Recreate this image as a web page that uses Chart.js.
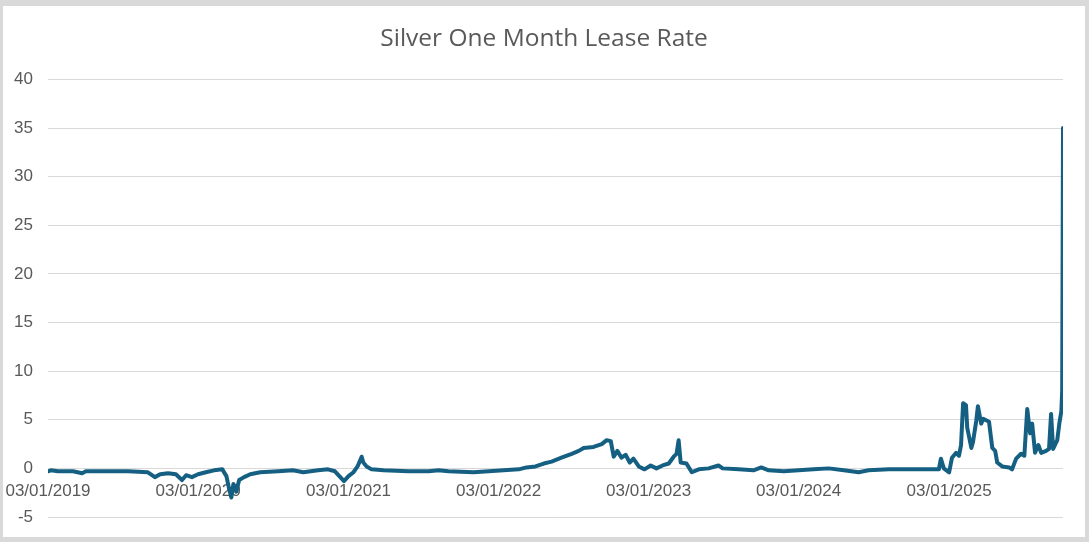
<!DOCTYPE html>
<html><head><meta charset="utf-8">
<script src="https://cdn.jsdelivr.net/npm/chart.js@4.4.1/dist/chart.umd.min.js"></script>
<style>
html,body{margin:0;padding:0;background:#d9d9d9;width:1089px;height:542px;overflow:hidden}
#box{position:absolute;left:3px;top:6px;width:1082px;height:531px;background:#fff}
</style></head><body><div id="box"><canvas id="c"></canvas></div>
<script>
const dates = [
'2019-01-03','2019-01-10','2019-01-27','2019-03-05','2019-03-27','2019-04-05','2019-05-29','2019-07-17','2019-09-03','2019-09-20',
'2019-10-03','2019-10-22','2019-11-10','2019-11-25','2019-12-05','2019-12-19','2020-01-03','2020-01-22','2020-02-11','2020-03-02',
'2020-03-12','2020-03-19','2020-03-24','2020-03-29','2020-04-05','2020-04-12','2020-04-24','2020-05-09','2020-06-02','2020-07-16',
'2020-08-21','2020-09-15','2020-10-21','2020-11-14','2020-12-01','2020-12-14','2020-12-23','2021-01-03','2021-01-15','2021-01-25',
'2021-02-04','2021-02-08','2021-02-16','2021-02-28','2021-03-29','2021-05-29','2021-07-17','2021-08-10','2021-09-03','2021-11-03',
'2021-12-10','2022-01-15','2022-02-21','2022-03-12','2022-04-03','2022-04-23','2022-05-12','2022-06-05','2022-06-30','2022-07-17',
'2022-07-29','2022-08-22','2022-09-11','2022-09-23','2022-10-03','2022-10-10','2022-10-19','2022-10-29','2022-11-08','2022-11-18',
'2022-11-27','2022-12-10','2022-12-24','2023-01-08','2023-01-22','2023-02-06','2023-02-21','2023-03-05','2023-03-12','2023-03-17',
'2023-03-22','2023-04-05','2023-04-18','2023-05-05','2023-05-29','2023-06-22','2023-07-02','2023-08-10','2023-09-15','2023-10-04',
'2023-10-22','2023-11-28','2024-01-03','2024-02-08','2024-03-16','2024-04-22','2024-05-28','2024-06-21','2024-08-09','2024-10-09',
'2024-12-09','2024-12-14','2024-12-21','2025-01-03','2025-01-10','2025-01-20','2025-01-27','2025-02-01','2025-02-06','2025-02-13',
'2025-02-16','2025-02-26','2025-03-02','2025-03-10','2025-03-14','2025-03-22','2025-03-27','2025-04-10','2025-04-18','2025-04-25',
'2025-04-30','2025-05-12','2025-05-29','2025-06-05','2025-06-15','2025-06-27','2025-07-05','2025-07-12','2025-07-19','2025-07-24',
'2025-07-31','2025-08-08','2025-08-15','2025-08-27','2025-09-03','2025-09-08','2025-09-13','2025-09-23','2025-09-28','2025-10-03',
'2025-10-05','2025-10-07'
];
const rates = [
-0.3,-0.2,-0.3,-0.3,-0.5,-0.3,-0.3,-0.3,-0.4,-0.9,
-0.6,-0.5,-0.6,-1.2,-0.7,-0.9,-0.6,-0.4,-0.2,-0.1,
-0.8,-2.2,-3.0,-1.6,-2.4,-1.2,-0.9,-0.6,-0.4,-0.3,
-0.2,-0.4,-0.2,-0.1,-0.3,-0.9,-1.3,-0.8,-0.4,0.2,
1.2,0.6,0.2,-0.1,-0.2,-0.3,-0.3,-0.2,-0.3,-0.4,
-0.3,-0.2,-0.1,0.1,0.2,0.5,0.7,1.1,1.5,1.8,
2.1,2.2,2.5,2.9,2.8,1.2,1.8,1.1,1.4,0.6,
1.0,0.2,-0.1,0.3,0.0,0.3,0.5,1.2,1.5,2.9,
0.6,0.5,-0.4,-0.1,0.0,0.3,0.0,-0.1,-0.2,0.1,
-0.2,-0.3,-0.2,-0.1,0.0,-0.2,-0.4,-0.2,-0.1,-0.1,
-0.1,1.0,0.0,-0.4,1.1,1.6,1.3,2.4,6.7,6.5,
4.2,2.1,2.7,4.9,6.4,4.6,5.1,4.8,2.1,1.8,
0.6,0.2,0.1,-0.1,1.0,1.5,1.3,6.1,3.6,4.6,
1.6,2.4,1.6,1.8,2.0,5.6,2.0,2.9,4.6,5.9,
8.0,35.0
];
const tickDates = ['2019-01-03','2020-01-03','2021-01-03','2022-01-03','2023-01-03','2024-01-03','2025-01-03'];
const tickLabels = ['03/01/2019','03/01/2020','03/01/2021','03/01/2022','03/01/2023','03/01/2024','03/01/2025'];
const yMin = -5, yMax = 40, yStep = 5;
const title = 'Silver One Month Lease Rate';

const dayOf = s => (Date.UTC(+s.slice(0,4), +s.slice(5,7)-1, +s.slice(8,10)) - Date.UTC(2019,0,3)) / 864e5;
const points = dates.map((d,i) => ({x: dayOf(d), y: rates[i]}));

new Chart(document.getElementById('c'), {
  type: 'line',
  data: { datasets: [{ data: points, borderColor: '#156082', borderWidth: 4, pointRadius: 0, tension: 0, borderJoinStyle: 'round', borderCapStyle: 'round' }] },
  options: {
    responsive: true, maintainAspectRatio: false, animation: false,
    layout: { padding: { left: 0, right: 0, top: 0, bottom: 20 } },
    plugins: {
      legend: { display: false }, tooltip: { enabled: false },
      title: { display: true, text: title, color: '#595959', font: { family: 'Open Sans', size: 24.5, weight: 'normal' }, padding: { top: 18, bottom: 26 } }
    },
    scales: {
      x: {
        type: 'linear', position: { y: 0 }, min: 0, max: dayOf(dates[dates.length-1]),
        grid: { display: false }, border: { display: false },
        afterBuildTicks: s => { s.ticks = tickDates.map(d => ({ value: dayOf(d) })); },
        afterFit: s => { s.paddingLeft = 0; s.paddingRight = 0; },
        ticks: { autoSkip: false, maxRotation: 0, padding: 5, color: '#595959', font: { family: 'Liberation Sans', size: 17 }, callback: (v, i) => tickLabels[i] }
      },
      y: {
        min: yMin, max: yMax,
        afterFit: s => { s.width = 45; s.paddingTop = 0; s.paddingBottom = 0; },
        grid: { color: '#d9d9d9', lineWidth: 1, drawTicks: false }, border: { display: false },
        ticks: { stepSize: yStep, padding: 15, color: '#595959', font: { family: 'Liberation Sans', size: 17 } }
      },
      yRight: {
        position: 'right', min: yMin, max: yMax,
        afterFit: s => { s.width = 22; s.paddingTop = 0; s.paddingBottom = 0; },
        grid: { display: false }, border: { display: false }, ticks: { display: false }
      }
    }
  }
});
</script></body></html>
